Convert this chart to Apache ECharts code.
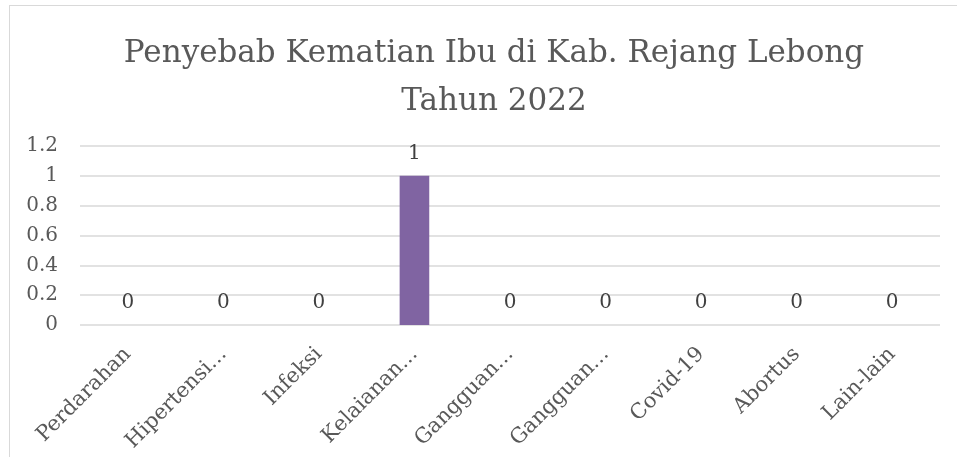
<!DOCTYPE html>
<html>
<head>
<meta charset="utf-8">
<script src="https://cdn.jsdelivr.net/npm/echarts@6/dist/echarts.min.js"></script>
<style>
	html, body { margin: 0; padding: 0; background: #fff; overflow: hidden; }
	#frame { position: absolute; left: 9px; top: 5px; width: 1000px; height: 500px;
		border-left: 1px solid #d9d9d9; border-top: 1px solid #d9d9d9; }
	#chart { position: absolute; left: 0; top: 0; width: 957px; height: 457px; }
</style>
</head>
<body>
<div id="frame"></div>
<div id="chart"></div>
<script>
//数据
var categories = ['Perdarahan', 'Hipertensi...', 'Infeksi', 'Kelaianan...', 'Gangguan...', 'Gangguan...', 'Covid-19', 'Abortus', 'Lain-lain'];
var values = [0, 0, 0, 1, 0, 0, 0, 0, 0];
var titleText = 'Penyebab Kematian Ibu di Kab. Rejang Lebong\nTahun 2022';

var font = 'DejaVu Serif';
var myBar = echarts.init(document.getElementById('chart'));
myBar.setOption({
	title: {
		text: titleText,
		left: 489,
		textAlign: 'center',
		top: 25,
		textStyle: {
			fontFamily: font,
			fontSize: 31,
			fontWeight: 'normal',
			color: '#595959',
			lineHeight: 48
		}
	},
	grid: {
		left: 80,
		right: 17,
		top: 146,
		bottom: 132
	},
	xAxis: {
		type: 'category',
		data: categories,
		axisLine: { show: false },
		axisTick: { show: false },
		axisLabel: {
			rotate: 45,
			interval: 0,
			margin: 26,
			fontFamily: font,
			fontSize: 21,
			color: '#595959'
		}
	},
	yAxis: {
		type: 'value',
		min: 0,
		max: 1.2,
		interval: 0.2,
		axisLine: { show: false },
		axisTick: { show: false },
		axisLabel: {
			margin: 22,
			fontFamily: font,
			fontSize: 20,
			color: '#595959',
			formatter: function (v) { return Math.round(v * 10) / 10; }
		},
		splitLine: { lineStyle: { color: '#d9d9d9', width: 1.5 } }
	},
	series: [{
		type: 'bar',
		data: values,
		barWidth: '31%',
		itemStyle: { color: '#8064a2' },
		label: {
			show: true,
			position: 'top',
			distance: 12,
			fontFamily: font,
			fontSize: 20,
			color: '#404040'
		}
	}]
});
</script>
</body>
</html>
